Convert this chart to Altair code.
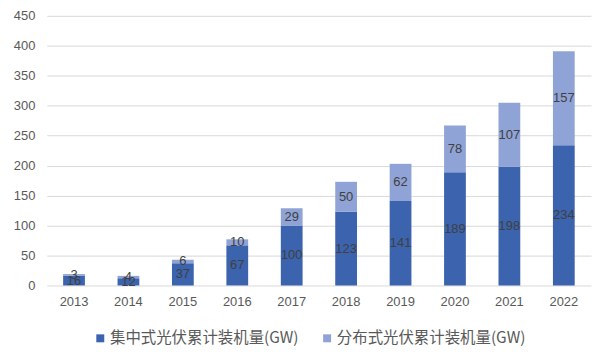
import altair as alt
import pandas as pd

years = ["2013", "2014", "2015", "2016", "2017", "2018", "2019", "2020", "2021", "2022"]
central = [16, 12, 37, 67, 100, 123, 141, 189, 198, 234]
distributed = [3, 4, 6, 10, 29, 50, 62, 78, 107, 157]
series_names = ["集中式光伏累计装机量(GW)", "分布式光伏累计装机量(GW)"]
colors = ["#3B63AE", "#8FA3D6"]

rows = []
for y, c, d in zip(years, central, distributed):
    rows.append({"year": y, "series": series_names[0], "value": c, "order": 0})
    rows.append({"year": y, "series": series_names[1], "value": d, "order": 1})
df = pd.DataFrame(rows)

base = alt.Chart(df).transform_stack(
    stack="value", groupby=["year"], as_=["y0", "y1"], sort=[alt.SortField("order")]
).transform_calculate(mid="(datum.y0 + datum.y1) / 2")

yscale = alt.Scale(domain=[0, 450])
yaxis = alt.Axis(values=list(range(0, 451, 50)), labelFontSize=13,
                 labelColor="#595959", ticks=False, domain=False,
                 gridColor="#D9D9D9", labelPadding=12, labelOverlap=False,
                 labelFont="Liberation Sans")

x = alt.X("year:N", title=None, sort=years,
          scale=alt.Scale(paddingInner=0.6, paddingOuter=0.3),
          axis=alt.Axis(labelAngle=0, labelFontSize=13, labelColor="#595959",
                        ticks=False, domain=False, labelPadding=10,
                        labelFont="Liberation Sans"))

bars = base.mark_bar().encode(
    x=x,
    y=alt.Y("y0:Q", title=None, scale=yscale, axis=yaxis),
    y2="y1:Q",
    color=alt.Color("series:N", sort=series_names,
                    scale=alt.Scale(domain=series_names, range=colors),
                    legend=alt.Legend(title=None, orient="none", direction="horizontal",
                                      legendX=46, legendY=316,
                                      symbolType="square", symbolSize=64,
                                      symbolStrokeWidth=0, labelOffset=2,
                                      labelFontSize=15.5, labelColor="#595959",
                                      labelFont="Noto Sans CJK SC", labelLimit=400,
                                      columnPadding=20)),
    order=alt.Order("order:Q"),
)

labels = base.mark_text(fontSize=13, color="#404040", font="Liberation Sans").encode(
    x=x,
    y=alt.Y("mid:Q", title=None, scale=yscale, axis=yaxis),
    text="value:Q",
)

chart = (bars + labels).properties(
    width=547, height=271,
    padding={"left": 5, "top": 1, "right": 5, "bottom": 5}
).configure_view(stroke=None)

chart.save("out.html", embed_options={"renderer": "svg", "actions": False})
